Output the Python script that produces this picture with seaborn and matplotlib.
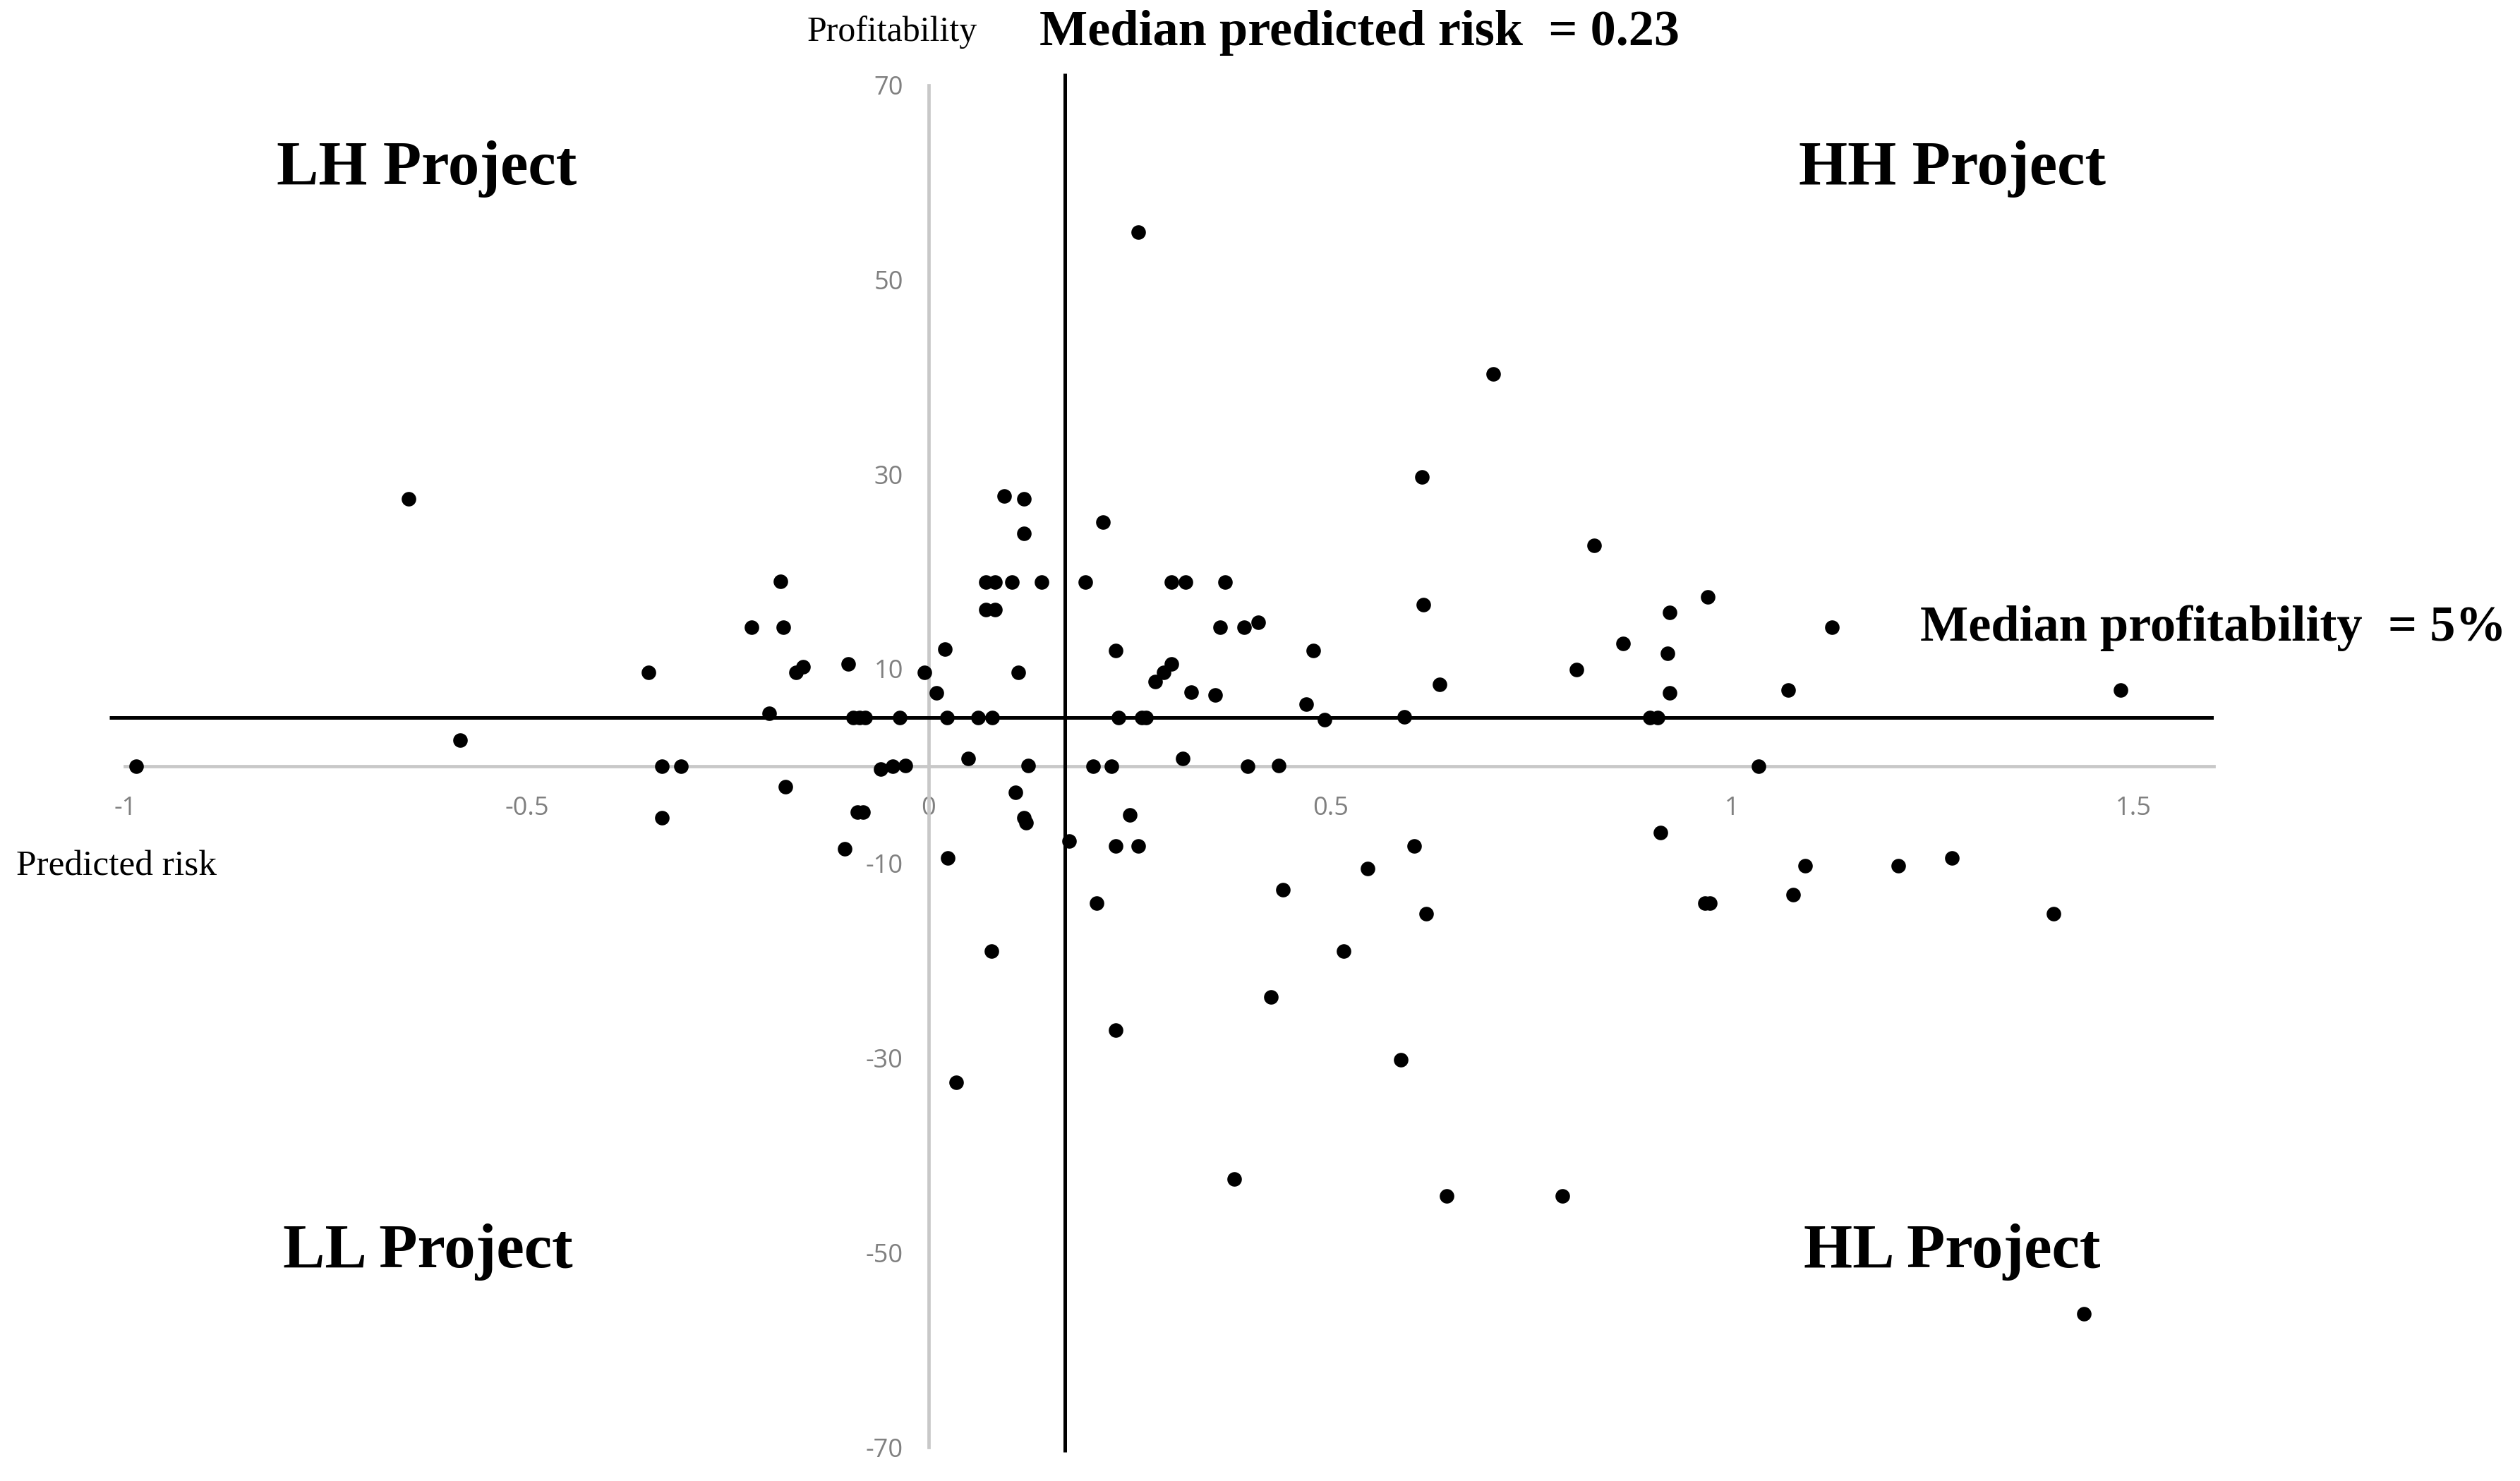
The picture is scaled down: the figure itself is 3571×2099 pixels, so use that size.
import seaborn as sns
import matplotlib.pyplot as plt
import pandas as pd

# predicted risk (x) and profitability (y) of each project
predicted_risk = [
    -0.986, -0.647, -0.583, -0.349, -0.332, -0.308, -0.332, -0.220, -0.184, -0.181,
    -0.165, -0.156, -0.198, -0.178, -0.100, -0.094, -0.086, -0.079, -0.036, -0.060,
    -0.045, -0.029, -0.089, -0.082, -0.104, -0.005, 0.010, 0.020, 0.023, 0.049,
    0.024, 0.062, 0.079, 0.094, 0.119, 0.119, 0.071, 0.083, 0.104, 0.141,
    0.071, 0.083, 0.112, 0.124, 0.108, 0.119, 0.121, 0.175, 0.078, 0.034,
    0.217, 0.195, 0.302, 0.320, 0.369, 0.614, 0.616, 0.363, 0.393, 0.410,
    0.233, 0.479, 0.282, 0.293, 0.302, 0.327, 0.357, 0.470, 0.636, 0.236,
    0.265, 0.271, 0.493, 0.592, 0.205, 0.228, 0.316, 0.397, 0.436, 0.250,
    0.233, 0.261, 0.604, 0.546, 0.441, 0.209, 0.619, 0.517, 0.426, 0.233,
    0.588, 0.380, 0.645, 0.261,
    0.703, 0.828, 0.970, 0.922, 1.124, 0.864, 0.920, 0.806, 0.922, 1.070,
    1.484, 0.898, 0.907, 1.033, 0.911, 1.091, 1.207, 1.274, 0.966, 0.972,
    1.076, 1.400, 0.789, 1.438,
]
profitability = [
    0.0, 27.5, 2.7, 9.6, 0.0, 0.0, -5.3, 14.3, 19.0, 14.3,
    9.6, 10.2, 5.4, -2.1, 10.5, 5.0, 5.0, 5.0, 5.0, -0.3,
    0.0, 0.1, -4.7, -4.7, -8.5, 9.6, 7.5, 12.0, 5.0, 0.8,
    -9.4, 5.0, 5.0, 27.8, 27.5, 23.9, 18.9, 18.9, 18.9, 18.9,
    16.1, 16.1, 9.6, 0.1, -2.7, -5.3, -5.8, -7.7, -19.0, -32.5,
    25.1, 18.9, 18.9, 18.9, 18.9, 29.7, 16.6, 14.3, 14.3, 14.8,
    11.9, 11.9, 8.7, 9.6, 10.5, 7.6, 7.3, 6.4, 8.4, 5.0,
    5.0, 5.0, 4.8, 5.1, 0.0, 0.0, 0.8, 0.0, 0.1, -5.0,
    -8.2, -8.2, -8.2, -10.5, -12.7, -14.1, -15.2, -19.0, -23.7, -27.1,
    -30.2, -42.4, -44.2, 54.9,
    40.3, 22.7, 17.4, 15.8, 14.3, 12.6, 11.6, 9.9, 7.5, 7.8,
    7.8, 5.0, 5.0, 0.0, -6.8, -10.2, -10.2, -9.4, -14.1, -14.1,
    -13.2, -15.2, -44.2, -56.3,
]

x_ticks = [-1, -0.5, 0, 0.5, 1, 1.5]
x_tick_labels = ["-1", "-0.5", "0", "0.5", "1", "1.5"]
y_ticks = [70, 50, 30, 10, -10, -30, -50, -70]

median_risk_line = 0.17      # where the vertical median line is drawn
median_profit_line = 5
quadrants = ["LH Project", "HH Project", "LL Project", "HL Project"]

df = pd.DataFrame({"risk": predicted_risk, "profit": profitability})

sns.set_theme(style="white")
plt.rcParams["font.family"] = ["Liberation Serif", "DejaVu Serif"]
plt.rcParams["axes.unicode_minus"] = False
plt.rcParams["text.color"] = "black"

fig = plt.figure(figsize=(3571 / 200, 2099 / 200), dpi=200)
ax = fig.add_axes([0.0433, 0.0162, 0.8353, 0.9395])

sns.scatterplot(data=df, x="risk", y="profit", color="black", s=55,
                linewidth=0, ax=ax, zorder=3)

ax.set_xlim(-1.02, 1.6)
ax.set_ylim(-71, 72)

# axes crossing at the origin, light grey
for side in ["top", "right"]:
    ax.spines[side].set_visible(False)
ax.spines["left"].set_position(("data", 0))
ax.spines["bottom"].set_position(("data", 0))
ax.spines["left"].set_bounds(-70, 70)
ax.spines["bottom"].set_bounds(-1, 1.6)
for side in ["left", "bottom"]:
    ax.spines[side].set_color("#c8c8c8")
    ax.spines[side].set_linewidth(1.7)
    ax.spines[side].set_zorder(1)

ax.set_xticks(x_ticks)
ax.set_xticklabels(x_tick_labels)
ax.set_yticks(y_ticks)
ax.tick_params(axis="x", length=0, pad=15, labelsize=13, labelcolor="#808080")
ax.tick_params(axis="y", length=0, pad=13, labelsize=13, labelcolor="#808080")
for lab in ax.get_xticklabels() + ax.get_yticklabels():
    lab.set_family(["Open Sans", "DejaVu Sans"])
ax.set_xlabel("")
ax.set_ylabel("")

# median lines
ax.vlines(median_risk_line, -70.5, 71.2, color="black", linewidth=1.8,
          zorder=2, clip_on=False)
ax.hlines(median_profit_line, -1.02, 1.6, color="black", linewidth=1.8, zorder=2)

# quadrant labels
q_font = dict(fontsize=32, fontweight="bold", ha="center", va="center", color="black")
ax.text(-0.625, 61.4, quadrants[0], **q_font)
ax.text(1.274, 61.4, quadrants[1], **q_font)
ax.text(-0.623, -49.9, quadrants[2], **q_font)
ax.text(1.274, -49.9, quadrants[3], **q_font)

ax.text(0.536, 75.4, "Median predicted risk  = 0.23", fontsize=26,
        fontweight="bold", ha="center", va="center", clip_on=False, color="black")
ax.text(1.234, 14.2, "Median profitability  = 5%", fontsize=26,
        fontweight="bold", ha="left", va="center", clip_on=False, color="black")

# axis titles
fig.text(1264 / 3571, 1 - 46 / 2099, "Profitability", fontsize=18,
         ha="center", va="center", color="black")
fig.text(23 / 3571, 1 - 1228 / 2099, "Predicted risk", fontsize=18.5,
         ha="left", va="center", color="black")

fig.savefig("out.png", dpi=200)
